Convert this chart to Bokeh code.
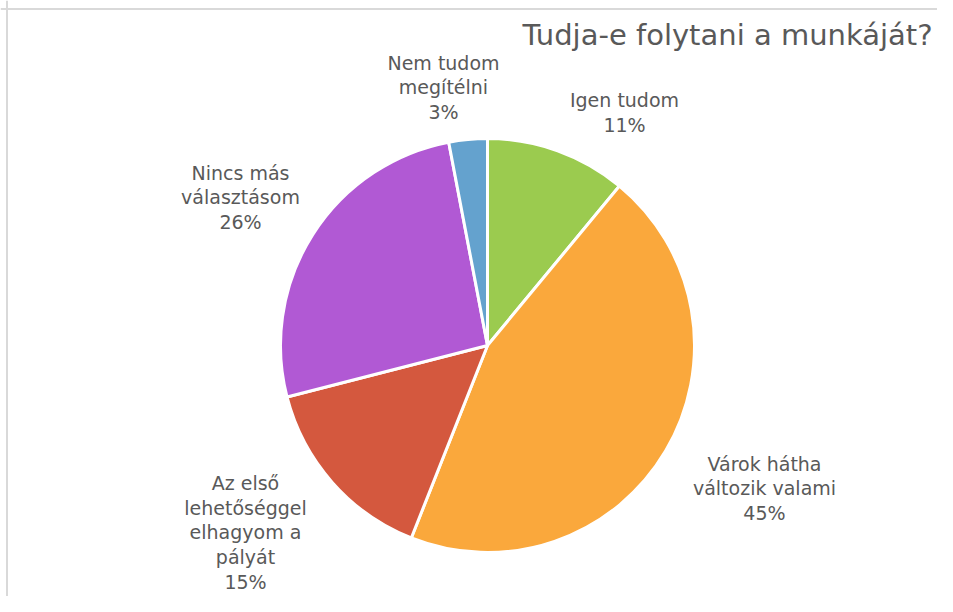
import math
from bokeh.plotting import figure
from bokeh.models import Range1d, Span, ColumnDataSource
from bokeh.core.properties import value
from bokeh.embed import file_html
from bokeh.resources import INLINE

# ---- data ----
categories = ["Igen tudom", "Várok hátha változik valami", "Az első lehetőséggel elhagyom a pályát",
              "Nincs más választásom", "Nem tudom megítélni"]
shares = [11, 45, 15, 26, 3]
label_texts = ["Igen tudom\n11%", "Várok hátha\nváltozik valami\n45%",
               "Az első\nlehetőséggel\nelhagyom a\npályát\n15%",
               "Nincs más\nválasztásom\n26%", "Nem tudom\nmegítélni\n3%"]
title_text = "Tudja-e folytani a munkáját?"

# ---- style / layout ----
colors = ["#9BCB4F", "#FAA83C", "#D4583E", "#B159D4", "#64A2CE"]
label_dx = [137, 277, -242, -247, -44]
label_dy = [233, -143, -187, 148, 258]
W, H = 937, 596
cx, cy, R = 487, 251, 207

total = sum(shares)
starts, ends = [], []
cum = 0
for s in shares:
    a_before = math.pi / 2 - 2 * math.pi * cum / total
    cum += s
    a_after = math.pi / 2 - 2 * math.pi * cum / total
    starts.append(a_after)
    ends.append(a_before)

p = figure(width=W, height=H, output_backend="svg", toolbar_location=None,
           x_range=Range1d(0, W), y_range=Range1d(0, H), min_border=0)
p.axis.visible = False
p.grid.visible = False
p.outline_line_color = None
p.background_fill_color = "white"

src = ColumnDataSource(dict(x=[cx] * len(shares), y=[cy] * len(shares),
                            start=starts, end=ends, color=colors, name=categories))
p.wedge(x="x", y="y", radius=R, start_angle="start", end_angle="end",
        fill_color="color", line_color="white", line_width=3, source=src)

lsrc = ColumnDataSource(dict(x=[cx + d for d in label_dx], y=[cy + d for d in label_dy],
                             text=label_texts))
p.text(x="x", y="y", text="text", source=lsrc, text_align="center", text_baseline="middle",
       text_font=value("DejaVu Sans"), text_font_size="19px", text_color="#595959",
       text_line_height=1.12)

p.text(x=[522], y=[H - 34], text=[title_text], text_align="left", text_baseline="middle",
       text_font=value("DejaVu Sans"), text_font_size="29px", text_color="#595959")

p.add_layout(Span(location=6.5, dimension="height", line_color="#D9D9D9", line_width=2))
p.add_layout(Span(location=H - 8.5, dimension="width", line_color="#D9D9D9", line_width=2))

open("out.html", "w").write(file_html(p, INLINE))
